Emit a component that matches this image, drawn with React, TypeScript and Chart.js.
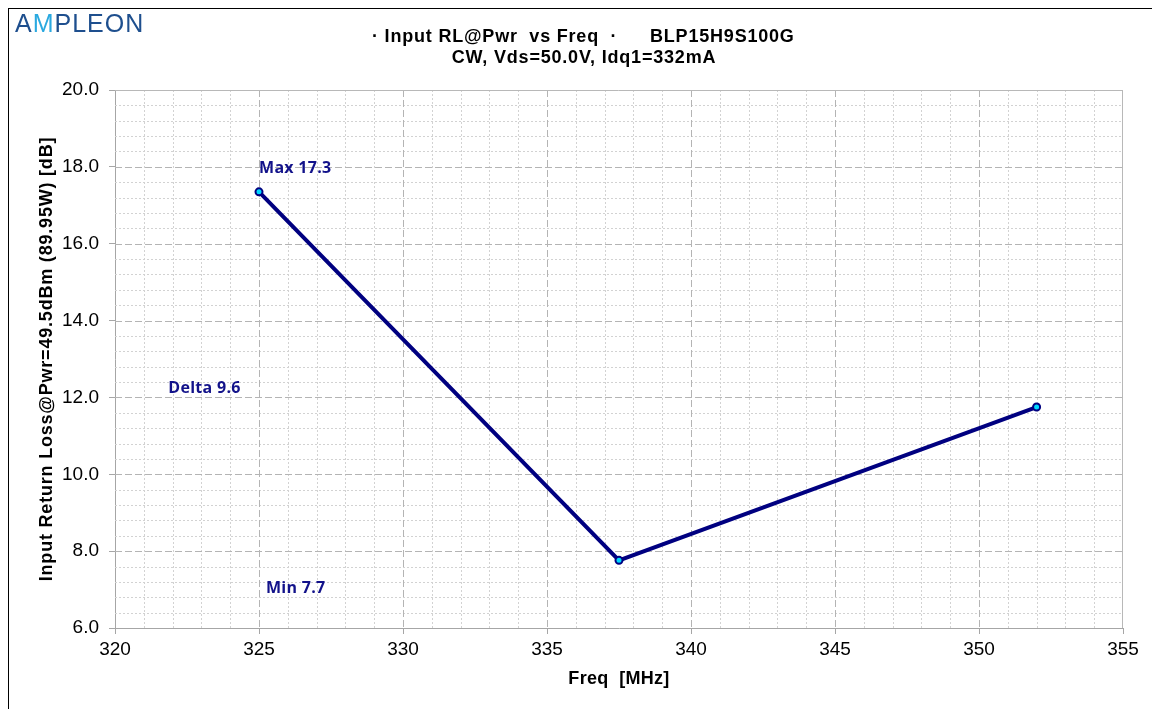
import React, { useEffect, useRef } from "react";
import { Chart, registerables } from "chart.js";

Chart.register(...registerables);

// ---- data ----
const freqMHz = [325, 337.5, 352];
const inputReturnLossDb = [17.35, 7.76, 11.75];

const xRange = [320, 355];
const xMajorStep = 5;
const xMinorStep = 1;
const yRange = [6, 20];
const yMajorStep = 2;
const yMinorStep = 0.4;

const titleLeft = "\u00B7 Input RL@Pwr  vs Freq  \u00B7";
const titleRight = "BLP15H9S100G";
const subtitle = "CW, Vds=50.0V, Idq1=332mA";
const xTitle = "Freq  [MHz]";
const yTitle = "Input Return Loss@Pwr=49.5dBm (89.95W) [dB]";
const annotationTexts = ["Max 17.3", "Delta 9.6", "Min 7.7"];

const NAVY = "#000080";
const ANNO = "#12128a";
const AXIS_GREY = "#a6a6a6";
const FONT = "'Liberation Sans', Arial, sans-serif";

const excelPlugin = {
  id: "excelLook",
  beforeDatasetsDraw(chart: any) {
    const { ctx, chartArea: a, scales } = chart;
    const x = scales.x;
    const y = scales.y;
    const line = (x1: number, y1: number, x2: number, y2: number) => {
      ctx.beginPath();
      ctx.moveTo(x1, y1);
      ctx.lineTo(x2, y2);
      ctx.stroke();
    };
    ctx.save();
    ctx.lineWidth = 1;
    // minor grid
    ctx.strokeStyle = "#d2d2d2";
    ctx.setLineDash([2, 2]);
    const nx = Math.round((xRange[1] - xRange[0]) / xMinorStep);
    const perMajorX = Math.round(xMajorStep / xMinorStep);
    for (let i = 1; i < nx; i++) {
      if (i % perMajorX === 0) continue;
      const px = Math.round(x.getPixelForValue(xRange[0] + i * xMinorStep)) + 0.5;
      line(px, a.top, px, a.bottom);
    }
    const ny = Math.round((yRange[1] - yRange[0]) / yMinorStep);
    const perMajorY = Math.round(yMajorStep / yMinorStep);
    for (let i = 1; i < ny; i++) {
      if (i % perMajorY === 0) continue;
      const py = Math.round(y.getPixelForValue(yRange[0] + i * yMinorStep)) + 0.5;
      line(a.left, py, a.right, py);
    }
    // major grid
    ctx.strokeStyle = "#b4b4b4";
    ctx.setLineDash([7, 3]);
    for (let v = xRange[0] + xMajorStep; v < xRange[1]; v += xMajorStep) {
      const px = Math.round(x.getPixelForValue(v)) + 0.5;
      line(px, a.top, px, a.bottom);
    }
    for (let i = 1; i < Math.round((yRange[1] - yRange[0]) / yMajorStep); i++) {
      const py = Math.round(y.getPixelForValue(yRange[0] + i * yMajorStep)) + 0.5;
      line(a.left, py, a.right, py);
    }
    // top and right frame
    ctx.setLineDash([]);
    ctx.strokeStyle = "#b8b8b8";
    const top = Math.round(a.top) + 0.5;
    const right = Math.round(a.right) - 0.5;
    line(a.left, top, right, top);
    line(right, a.top, right, a.bottom);
    ctx.restore();
  },
  afterDraw(chart: any) {
    const { ctx, chartArea: a, scales } = chart;
    const x = scales.x;
    const y = scales.y;
    ctx.save();
    ctx.fillStyle = "#000";
    ctx.textBaseline = "alphabetic";
    // title
    ctx.font = `bold 18px ${FONT}`;
    (ctx as any).letterSpacing = "0.8px";
    ctx.textAlign = "left";
    ctx.fillText(titleLeft, 363, 33);
    ctx.fillText(titleRight, 641, 33);
    ctx.textAlign = "center";
    ctx.fillText(subtitle, 575, 54);
    // axis titles
    (ctx as any).letterSpacing = "0.3px";
    ctx.fillText(xTitle, (a.left + a.right) / 2, 675);
    (ctx as any).letterSpacing = "0.8px";
    ctx.save();
    ctx.translate(43, (a.top + a.bottom) / 2);
    ctx.rotate(-Math.PI / 2);
    ctx.fillText(yTitle, 0, 0);
    ctx.restore();
    // annotations
    (ctx as any).letterSpacing = "0.3px";
    ctx.font = `bold 16px 'Open Sans', 'Noto Sans', sans-serif`;
    ctx.fillStyle = ANNO;
    ctx.textAlign = "left";
    const spots = [
      [325, 17.84],
      [321.85, 12.11],
      [325.24, 6.9],
    ];
    annotationTexts.forEach((t, i) => {
      ctx.fillText(t, x.getPixelForValue(spots[i][0]), y.getPixelForValue(spots[i][1]));
    });
    ctx.restore();
  },
};

export default function App() {
  const ref = useRef<HTMLCanvasElement | null>(null);
  useEffect(() => {
    if (!ref.current) return;
    const chart = new Chart(ref.current, {
      type: "line",
      data: {
        datasets: [
          {
            label: "Input RL",
            data: freqMHz.map((f, i) => ({ x: f, y: inputReturnLossDb[i] })),
            borderColor: NAVY,
            borderWidth: 4,
            pointRadius: 3.5,
            pointBorderWidth: 2,
            pointBorderColor: NAVY,
            pointBackgroundColor: "#00d8ff",
            tension: 0,
          },
        ],
      },
      options: {
        animation: false,
        responsive: false,
        devicePixelRatio: 1,
        layout: { padding: { left: 0, right: 29, top: 81, bottom: 0 } },
        plugins: {
          legend: { display: false },
          title: { display: false },
          tooltip: { enabled: false },
        },
        scales: {
          x: {
            type: "linear",
            min: xRange[0],
            max: xRange[1],
            afterFit: (s: any) => {
              s.height = 81;
            },
            ticks: {
              stepSize: xMajorStep,
              padding: 4,
              color: "#000",
              font: { family: FONT, size: 19 },
              maxRotation: 0,
            },
            grid: {
              drawOnChartArea: false,
              drawTicks: true,
              tickLength: 6,
              tickColor: AXIS_GREY,
            },
            border: { display: true, color: AXIS_GREY, width: 1 },
          },
          y: {
            type: "linear",
            min: yRange[0],
            max: yRange[1],
            afterFit: (s: any) => {
              s.width = 106;
            },
            ticks: {
              stepSize: yMajorStep,
              padding: 10,
              color: "#000",
              font: { family: FONT, size: 19 },
              callback: (v: any) => Number(v).toFixed(1),
            },
            grid: {
              drawOnChartArea: false,
              drawTicks: true,
              tickLength: 6,
              tickColor: AXIS_GREY,
            },
            border: { display: true, color: AXIS_GREY, width: 1 },
          },
        },
      },
      plugins: [excelPlugin],
    });
    return () => chart.destroy();
  }, []);

  return (
    <div
      style={{
        position: "fixed",
        left: 8,
        top: 8,
        width: 1170,
        height: 730,
        boxSizing: "border-box",
        borderLeft: "1px solid #000",
        borderTop: "1px solid #000",
        background: "#fff",
      }}
    >
      <div
        style={{
          position: "absolute",
          left: 6,
          top: 2,
          fontFamily: FONT,
          fontSize: 25,
          lineHeight: "25px",
          color: "#1e4f8e",
          letterSpacing: 1,
          whiteSpace: "nowrap",
        }}
      >
        A<span style={{ color: "#2aa9e0" }}>M</span>PLEON
      </div>
      <canvas ref={ref} width={1143} height={700} style={{ display: "block" }} />
    </div>
  );
}
